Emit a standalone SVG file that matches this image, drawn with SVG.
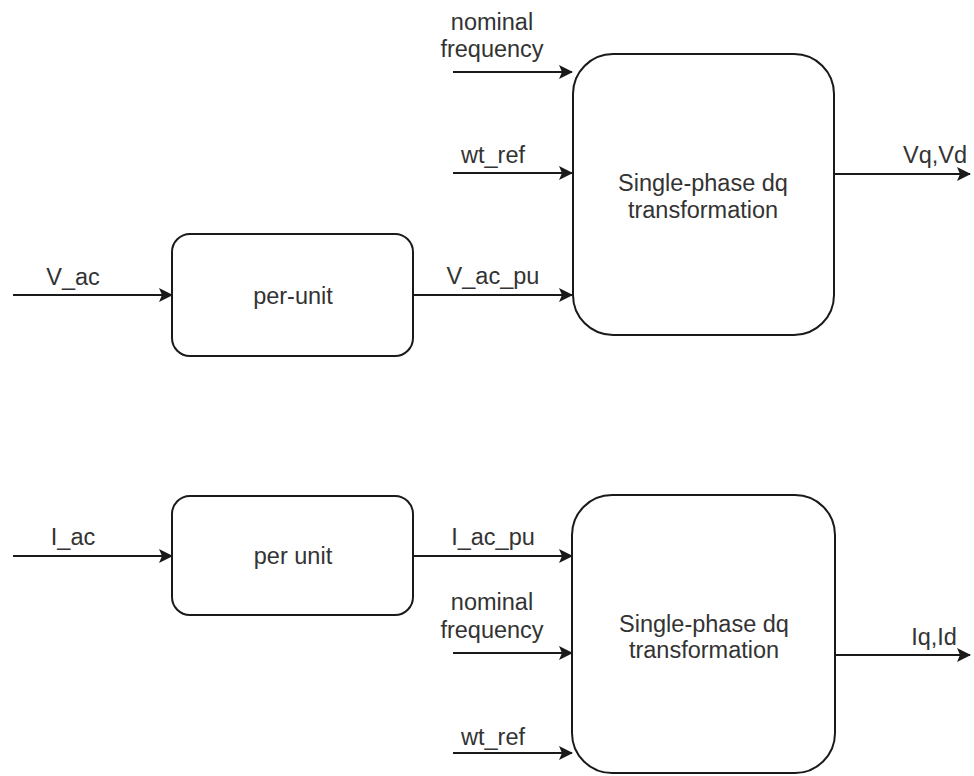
<svg xmlns="http://www.w3.org/2000/svg" width="974" height="776" viewBox="0 0 974 776">
<style>
.box{fill:#fff;stroke:#1a1a1a;stroke-width:2}
.t{font-family:"Liberation Sans",Arial,sans-serif;font-size:23.5px;fill:#333;text-anchor:middle}
.c{stroke:#1a1a1a;stroke-width:2;fill:none;marker-end:url(#arr)}
</style>
<defs>
<marker id="arr" viewBox="0 0 14 14" refX="13" refY="7" markerWidth="14" markerHeight="14" markerUnits="userSpaceOnUse" orient="auto">
<path d="M0,0 L14,7 L0,14 L3,7 Z" fill="#1a1a1a"/>
</marker>
</defs>
<rect width="974" height="776" fill="#fff"/>
<g id="connectors">
<path class="c" d="M13,295 H172"/>
<path class="c" d="M413,295 H572"/>
<path class="c" d="M453,72 H572"/>
<path class="c" d="M453,173 H572"/>
<path class="c" d="M834,174 H970"/>
<path class="c" d="M13,556 H172"/>
<path class="c" d="M413,556 H572"/>
<path class="c" d="M453,653 H572"/>
<path class="c" d="M453,753 H572"/>
<path class="c" d="M835,655 H970"/>
<text class="t" x="73" y="285">V_ac</text>
<text class="t" x="493" y="284">V_ac_pu</text>
<text class="t" x="492" y="30">nominal</text>
<text class="t" x="492" y="57">frequency</text>
<text class="t" x="493" y="163">wt_ref</text>
<text class="t" x="935" y="163">Vq,Vd</text>
<text class="t" x="73" y="545">I_ac</text>
<text class="t" x="493" y="545">I_ac_pu</text>
<text class="t" x="492" y="610">nominal</text>
<text class="t" x="492" y="638">frequency</text>
<text class="t" x="493" y="745">wt_ref</text>
<text class="t" x="934" y="645">Iq,Id</text>
</g>
<g id="perunit_v">
<rect class="box" x="172" y="234" width="241" height="122" rx="18"/>
<text class="t" x="293" y="304">per-unit</text>
</g>
<g id="dq_v">
<rect class="box" x="573" y="54" width="261" height="281" rx="40"/>
<text class="t" x="703" y="191">Single-phase dq</text>
<text class="t" x="703" y="218">transformation</text>
</g>
<g id="perunit_i">
<rect class="box" x="172" y="496" width="241" height="119" rx="18"/>
<text class="t" x="293" y="564">per unit</text>
</g>
<g id="dq_i">
<rect class="box" x="572" y="495" width="263" height="278" rx="40"/>
<text class="t" x="704" y="632">Single-phase dq</text>
<text class="t" x="704" y="658">transformation</text>
</g>
</svg>
